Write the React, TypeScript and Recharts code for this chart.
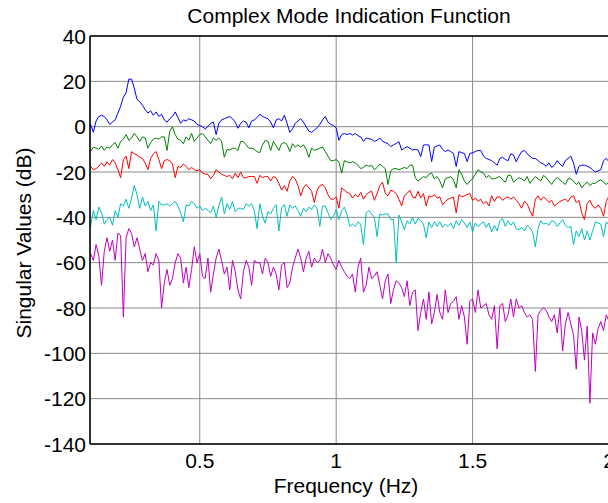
import { CartesianGrid, Line, LineChart, ReferenceLine, XAxis, YAxis } from 'recharts'

const FONT = '"Liberation Sans", Arial, Helvetica, sans-serif'

// frequency axis (Hz)
const freq = [
  0.1, 0.11, 0.12, 0.13, 0.14, 0.15, 0.16, 0.17, 0.18, 0.19,
  0.2, 0.21, 0.22, 0.23, 0.24, 0.25, 0.26, 0.27, 0.28, 0.29,
  0.3, 0.31, 0.32, 0.33, 0.34, 0.35, 0.36, 0.37, 0.38, 0.39,
  0.4, 0.41, 0.42, 0.43, 0.44, 0.45, 0.46, 0.47, 0.48, 0.49,
  0.5, 0.51, 0.52, 0.53, 0.54, 0.55, 0.56, 0.57, 0.58, 0.59,
  0.6, 0.61, 0.62, 0.63, 0.64, 0.65, 0.66, 0.67, 0.68, 0.69,
  0.7, 0.71, 0.72, 0.73, 0.74, 0.75, 0.76, 0.77, 0.78, 0.79,
  0.8, 0.81, 0.82, 0.83, 0.84, 0.85, 0.86, 0.87, 0.88, 0.89,
  0.9, 0.91, 0.92, 0.93, 0.94, 0.95, 0.96, 0.97, 0.98, 0.99,
  1.0, 1.01, 1.02, 1.03, 1.04, 1.05, 1.06, 1.07, 1.08, 1.09,
  1.1, 1.11, 1.12, 1.13, 1.14, 1.15, 1.16, 1.17, 1.18, 1.19,
  1.2, 1.21, 1.22, 1.23, 1.24, 1.25, 1.26, 1.27, 1.28, 1.29,
  1.3, 1.31, 1.32, 1.33, 1.34, 1.35, 1.36, 1.37, 1.38, 1.39,
  1.4, 1.41, 1.42, 1.43, 1.44, 1.45, 1.46, 1.47, 1.48, 1.49,
  1.5, 1.51, 1.52, 1.53, 1.54, 1.55, 1.56, 1.57, 1.58, 1.59,
  1.6, 1.61, 1.62, 1.63, 1.64, 1.65, 1.66, 1.67, 1.68, 1.69,
  1.7, 1.71, 1.72, 1.73, 1.74, 1.75, 1.76, 1.77, 1.78, 1.79,
  1.8, 1.81, 1.82, 1.83, 1.84, 1.85, 1.86, 1.87, 1.88, 1.89,
  1.9, 1.91, 1.92, 1.93, 1.94, 1.95, 1.96, 1.97, 1.98, 1.99,
  2.0,
]

// singular values (dB), first to fifth
const sv1 = [
  1, -2.5, 2.5, 4.5, 5, 4.5, 3, 1, 2, 3,
  6, 9, 13, 15, 21, 21, 17, 12, 11, 9.5,
  7.5, 6, 7, 5, 6.5, 4.5, 5.5, 3, 2, 3.5,
  4.5, 6.5, 4, 1.5, 3, 2.5, 3.5, 3, 2.5, 1,
  0.5, 0, -1, 0, 1.5, 2, -3.5, 1.5, 3, 3.5,
  4, 4.5, 3.5, 2, -0.7, 1.5, 2.5, 2, -0.5, 2.5,
  3, 4, 5.5, 4.5, 4, 3.5, 2, -0.5, 3, 3.5,
  2.5, 5, 1.5, -2.5, -1, 1.5, 2.5, 3.5, 2, 0,
  -2, -2.5, -1.5, -0.5, 1, 3, 4.5, 2, 1, 0.5,
  -0.5, -6, -3.5, -3, -3.5, -3, -3.7, -3, -4, -4.5,
  -6.5, -5, -5.3, -5.6, -6.5, -6, -5, -6.5, -7, -7.5,
  -8.8, -8, -7.4, -6.6, -10.3, -9.5, -8.8, -9.5, -10.3, -10,
  -10.3, -13.2, -8.1, -8, -8.1, -15.4, -9, -8.5, -8.1, -10,
  -11, -10.3, -11, -11.8, -17.6, -11, -11.5, -11.8, -15.4, -11.8,
  -11.5, -11, -10.5, -10.5, -13, -14, -14.5, -15, -16, -17,
  -14, -13.5, -14.5, -15, -12, -12.5, -15.5, -13, -11, -10.5,
  -12, -13, -14, -14, -15, -16, -16.5, -17.5, -16, -18,
  -17, -15, -16.5, -17.5, -15, -14, -13, -16, -21, -17.5,
  -17, -17, -17.5, -18, -19, -20, -19.5, -19, -15, -14,
  -15.5,
]

const sv2 = [
  -11, -9, -9.5, -10, -8.5, -10.5, -9, -9.5, -8, -7,
  -9.5, -6.5, -5.5, -3.5, -6, -5, -3, -4.5, -6.5, -4.5,
  -5, -9.5, -7, -5.5, -5, -5.5, -4.5, -4.5, -10.5, -2,
  0, -3.5, -5.5, -6, -7.5, -4.5, -6, -3, -6.5, -5,
  -3.5, -3, -4.5, -6, -7.5, -5, -6, -5, -6.5, -13.5,
  -10, -10.3, -9.5, -9.5, -10.5, -6.5, -6.5, -8, -9.5, -9.5,
  -10, -11, -11.5, -8, -6, -6.5, -10.5, -6.5, -8.5, -10.5,
  -7.5, -7, -8, -11, -7.5, -9, -8, -9, -8, -10,
  -13.5, -9.5, -10.5, -10, -9.5, -9, -11, -13, -15, -15,
  -14.5, -15.5, -20.5, -15, -15.5, -16, -15.5, -16, -17, -18.5,
  -18, -17, -17.5, -17, -19, -18, -16.5, -17.5, -18.5, -25.5,
  -19.5, -18.5, -18.5, -19, -18.5, -18, -18.5, -17, -17, -22.5,
  -24, -23, -22, -22.5, -21, -20.5, -23, -22, -24, -27,
  -23, -22.5, -22, -23.5, -27, -19, -21, -24, -25.5, -24,
  -23, -21, -19, -20, -20.5, -22.5, -21.5, -23, -23, -22.5,
  -22, -23.5, -24.5, -21.5, -21.5, -24.5, -23.5, -22.5, -23, -24,
  -22, -25, -23.5, -22, -23, -24, -21.5, -22.5, -24, -25.5,
  -23.5, -22.5, -23.5, -24.5, -25.5, -23, -23, -24, -25.5, -24.5,
  -27, -25.5, -24.5, -26, -25, -25, -24, -23.5, -24.5, -25.5,
  -24.5,
]

const sv3 = [
  -17.5, -19, -18.5, -17.5, -16, -17.5, -15.5, -17, -14.5, -16,
  -19, -22.5, -14.5, -13, -18.5, -11, -12, -12.5, -13.5, -14,
  -16, -19, -14, -12, -11, -14.5, -18.5, -15, -14.5, -15,
  -16.5, -22.5, -17.5, -18, -16.5, -17.5, -19, -18, -19, -19.5,
  -19, -20.5, -21, -21, -23, -21.5, -19, -20, -21, -21.5,
  -22, -21.5, -23, -20.5, -22.5, -20, -22.5, -22.5, -22, -22,
  -22, -25, -21.5, -22.5, -22, -22, -24, -22, -22.5, -25,
  -28, -26, -28.5, -24, -22, -23, -26, -30.5, -27, -25.5,
  -27, -28.5, -33.5, -28, -26, -25.5, -27, -30, -32, -32,
  -31, -36, -27, -28, -29, -29.5, -31.5, -30, -31, -29,
  -32, -30, -29, -28.5, -32.5, -29.5, -26, -24.5, -29.5, -30.5,
  -28, -28.5, -29.5, -32, -35, -30.5, -29.5, -28, -31, -31.5,
  -28.5, -31.5, -29.5, -35, -30.5, -31, -30, -31.5, -31, -34.5,
  -33, -32, -31.5, -31, -38, -30, -31, -30.5, -30, -29.5,
  -32.5, -31.5, -33, -32, -34, -33, -35, -30.5, -33, -31,
  -31, -32.5, -31.5, -31, -32, -31, -32.5, -34, -36, -33,
  -34, -37, -39.5, -32, -30.5, -32.5, -31, -32, -33.5, -32.5,
  -35, -34, -33, -32.5, -32, -33, -31, -30.5, -33.5, -32.5,
  -38, -41, -34, -32.5, -35, -36, -34.5, -36, -39.5, -33,
  -30.5,
]

const sv4 = [
  -44, -37, -41, -35.5, -38, -43, -41, -40, -43.5, -37,
  -40, -34, -35, -32, -36, -31.5, -26, -30, -36, -31,
  -35, -33, -37, -34.5, -46, -33, -34.5, -34.5, -34, -35,
  -34, -33, -35, -38, -42, -34.5, -35, -33, -34, -36,
  -35, -37, -36, -37, -38, -35, -40, -35, -31, -38.5,
  -34, -36.5, -33, -37.5, -36, -36, -36.5, -34, -35, -34,
  -37, -45, -34, -39.5, -42.5, -37.5, -38.5, -36, -34.5, -46,
  -35.5, -34.5, -39.5, -34.5, -36, -35, -37, -39.5, -36, -37.5,
  -35.5, -36.5, -34.5, -36, -44, -35, -35, -38, -41, -39.5,
  -36.5, -41, -37, -35.5, -39, -44, -43, -44, -42, -43,
  -52, -38, -37, -38.5, -40, -48.5, -38.5, -39, -38.5, -38.5,
  -41, -41, -60, -39, -42, -45.5, -41.5, -43, -40, -43,
  -40.5, -41.5, -43, -49, -42, -44.5, -42, -44, -42, -44.5,
  -43, -44, -42.5, -45, -41.5, -43.5, -41, -42.5, -44.5, -42,
  -46.5, -42.5, -44, -43, -42, -44.5, -42.5, -46.5, -43.5, -46,
  -41.5, -40.5, -44, -41.5, -43.5, -42, -45, -45.5, -44.5, -46,
  -43.5, -44.5, -46.5, -53, -45, -41.5, -43, -42.5, -43.5, -41.5,
  -42, -44, -42.5, -41, -43.5, -44.5, -44, -52, -46, -48.5,
  -45, -50, -46, -50, -46, -42, -42.5, -43, -48.5, -42,
  -43.5,
]

const sv5 = [
  -56, -59, -52, -57, -70, -55, -49, -55, -50, -59,
  -47, -48, -84, -49, -45, -47, -53, -49, -54, -59,
  -56, -64, -60, -61, -56, -59, -80, -69, -63, -70,
  -67, -60, -56, -58, -69, -62, -71, -63, -53, -60,
  -56, -66, -67, -58, -73, -65, -58, -54, -59, -65,
  -62, -72, -59, -64, -72, -76, -64, -59, -62, -70,
  -59, -60, -60, -65, -58, -60, -66, -62, -65, -72,
  -61, -60, -71, -69, -62, -58, -54, -58, -64, -58,
  -55, -62, -58, -60, -59, -54, -60, -56, -58, -61,
  -63, -59, -62, -64, -66, -67, -65, -73, -62, -58,
  -73, -70, -62, -67, -66, -64, -70, -76, -68, -65,
  -78, -72, -68, -69, -71, -75, -68, -79, -73, -72,
  -90, -82, -76, -85, -73, -87, -82, -74, -82, -85,
  -72, -82, -78, -77, -75, -85, -79, -84, -96, -77,
  -76, -82, -72, -80, -79, -78, -83, -85, -79, -98,
  -79, -78, -86, -83, -76, -84, -76, -80, -79, -82,
  -84, -83, -85, -108, -83, -81, -80, -81, -84, -86,
  -83, -91, -80, -99, -87, -82, -87, -92, -107, -84,
  -90, -103, -88, -122, -91, -96, -89, -86, -90, -83,
  -86,
]

const xTicks = [0.5, 1, 1.5, 2]
const yTicks = [-140, -120, -100, -80, -60, -40, -20, 0, 20, 40]

const rows = freq.map((f, i) => ({ f, a: sv1[i], b: sv2[i], c: sv3[i], d: sv4[i], e: sv5[i] }))

function XTick({ x, y, payload }: any) {
  return (
    <text x={x} y={y + 24} textAnchor="middle" fontSize={21} fontFamily={FONT} fill="#000">
      {String(payload.value)}
    </text>
  )
}

function YTick({ x, y, payload }: any) {
  return (
    <text x={x - 4} y={y + 7.5} textAnchor="end" fontSize={21} fontFamily={FONT} fill="#000">
      {String(payload.value)}
    </text>
  )
}

export default function App() {
  return (
    <div style={{ position: 'absolute', left: 0, top: 0, width: 608, height: 503, overflow: 'hidden', background: '#fff' }}>
      <div style={{ position: 'absolute', left: 0, top: 0 }}>
        <LineChart width={620} height={503} data={rows} margin={{ top: 36, right: 11, bottom: 29, left: 0 }}>
          <CartesianGrid stroke="#8a8a8a" />
          <XAxis
            dataKey="f" type="number" domain={[0.0977, 2]} ticks={xTicks} allowDataOverflow
            height={30} tickSize={0} tickMargin={0} tickLine={false} tick={<XTick />}
            axisLine={{ stroke: '#000', strokeWidth: 1.5 }}
          />
          <YAxis
            type="number" domain={[-140, 40]} ticks={yTicks} allowDataOverflow
            width={90} tickSize={0} tickMargin={0} tickLine={false} tick={<YTick />}
            axisLine={{ stroke: '#000', strokeWidth: 1.5 }}
          />
          <ReferenceLine y={40} stroke="#000" strokeWidth={1.5} />
          <Line dataKey="a" stroke="#0000ff" strokeWidth={1} dot={false} isAnimationActive={false} />
          <Line dataKey="b" stroke="#008000" strokeWidth={1} dot={false} isAnimationActive={false} />
          <Line dataKey="c" stroke="#ff0000" strokeWidth={1} dot={false} isAnimationActive={false} />
          <Line dataKey="d" stroke="#00bfbf" strokeWidth={1} dot={false} isAnimationActive={false} />
          <Line dataKey="e" stroke="#bf00bf" strokeWidth={1} dot={false} isAnimationActive={false} />
        </LineChart>
      </div>
      <svg width={608} height={503} style={{ position: 'absolute', left: 0, top: 0, pointerEvents: 'none' }}>
        <text x={349} y={23} textAnchor="middle" fontSize={21} fontFamily={FONT} fill="#000">
          Complex Mode Indication Function
        </text>
        <text x={346} y={493} textAnchor="middle" fontSize={21} fontFamily={FONT} fill="#000">
          Frequency (Hz)
        </text>
        <text x={31} y={243} textAnchor="middle" fontSize={21} fontFamily={FONT} fill="#000" transform="rotate(-90 31 243)">
          Singular Values (dB)
        </text>
      </svg>
    </div>
  )
}
